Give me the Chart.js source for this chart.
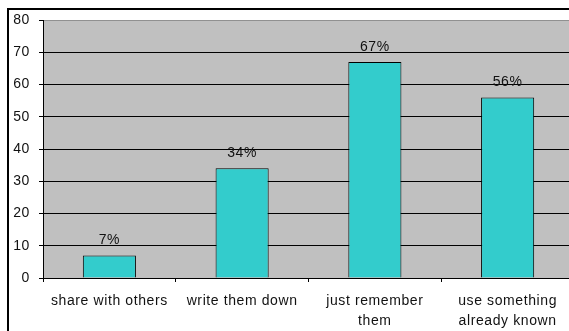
<!DOCTYPE html>
<html>
<head>
<meta charset="utf-8">
<script src="https://cdn.jsdelivr.net/npm/chart.js@4/dist/chart.umd.min.js"></script>
<style>
  html, body { margin: 0; padding: 0; background: #fff; overflow: hidden; }
  #wrap { width: 580px; height: 331px; }
</style>
</head>
<body>
<div id="wrap"><canvas id="chart"></canvas></div>
<script>
const categories = [['share with others'], ['write them down'], ['just remember', 'them'], ['use something', 'already known']];
const values = [7, 34, 67, 56];
const valueLabels = ['7%', '34%', '67%', '56%'];
const yTicks = [0, 10, 20, 30, 40, 50, 60, 70, 80];

const fontFamily = '"Liberation Sans", Arial, sans-serif';

const frame = {
    id: 'frame',
    beforeDraw(chart) {
        const ctx = chart.ctx;
        const a = chart.chartArea;
        ctx.letterSpacing = '0.6px';
        ctx.save();
        ctx.fillStyle = '#fff';
        ctx.fillRect(0, 0, chart.width, chart.height);
        ctx.strokeStyle = '#000';
        ctx.lineWidth = 2;
        ctx.strokeRect(8, 9, chart.width + 20, chart.height + 20);
        ctx.fillStyle = '#c0c0c0';
        ctx.fillRect(a.left, a.top, a.right - a.left, a.bottom - a.top);
        ctx.restore();
    }
};

const valueText = {
    id: 'valueText',
    afterDatasetsDraw(chart) {
        const ctx = chart.ctx;
        const meta = chart.getDatasetMeta(0);
        ctx.save();
        ctx.font = '14px ' + fontFamily;
        ctx.fillStyle = '#111';
        ctx.textAlign = 'center';
        ctx.textBaseline = 'alphabetic';
        meta.data.forEach(function (bar, i) {
            ctx.fillText(valueLabels[i], bar.x, bar.y - 11);
        });
        ctx.restore();
    }
};

new Chart(document.getElementById('chart'), {
    type: 'bar',
    data: {
        labels: categories,
        datasets: [{
            data: values,
            backgroundColor: '#33cccc',
            borderColor: '#000',
            borderWidth: 1,
            barPercentage: 0.4,
            categoryPercentage: 1
        }]
    },
    options: {
        responsive: true,
        maintainAspectRatio: false,
        animation: false,
        layout: { padding: { left: 0, top: 20, right: 6, bottom: 0 } },
        plugins: { legend: { display: false }, tooltip: { enabled: false } },
        scales: {
            x: {
                grid: { drawOnChartArea: false, offset: true, tickLength: 4, color: '#000' },
                border: { color: '#000', width: 1 },
                ticks: {
                    color: '#111',
                    padding: 9,
                    maxRotation: 0,
                    autoSkip: false,
                    font: { family: fontFamily, size: 14, lineHeight: 1.43 }
                },
                afterFit(scale) { scale.height = 53; }
            },
            y: {
                min: 0,
                max: 80,
                afterBuildTicks(scale) { scale.ticks = yTicks.map(v => ({ value: v })); },
                grid: {
                    color: ctx => ctx.tick && ctx.tick.value === 80 ? '#909090' : (ctx.tick && ctx.tick.value === 0 ? 'rgba(0,0,0,0)' : '#000'),
                    tickColor: '#000',
                    tickLength: 4
                },
                border: { color: '#000', width: 1 },
                ticks: {
                    color: '#111',
                    padding: 9,
                    font: { family: fontFamily, size: 14 }
                },
                afterFit(scale) { scale.width = 43; }
            }
        }
    },
    plugins: [frame, valueText]
});
</script>
</body>
</html>
